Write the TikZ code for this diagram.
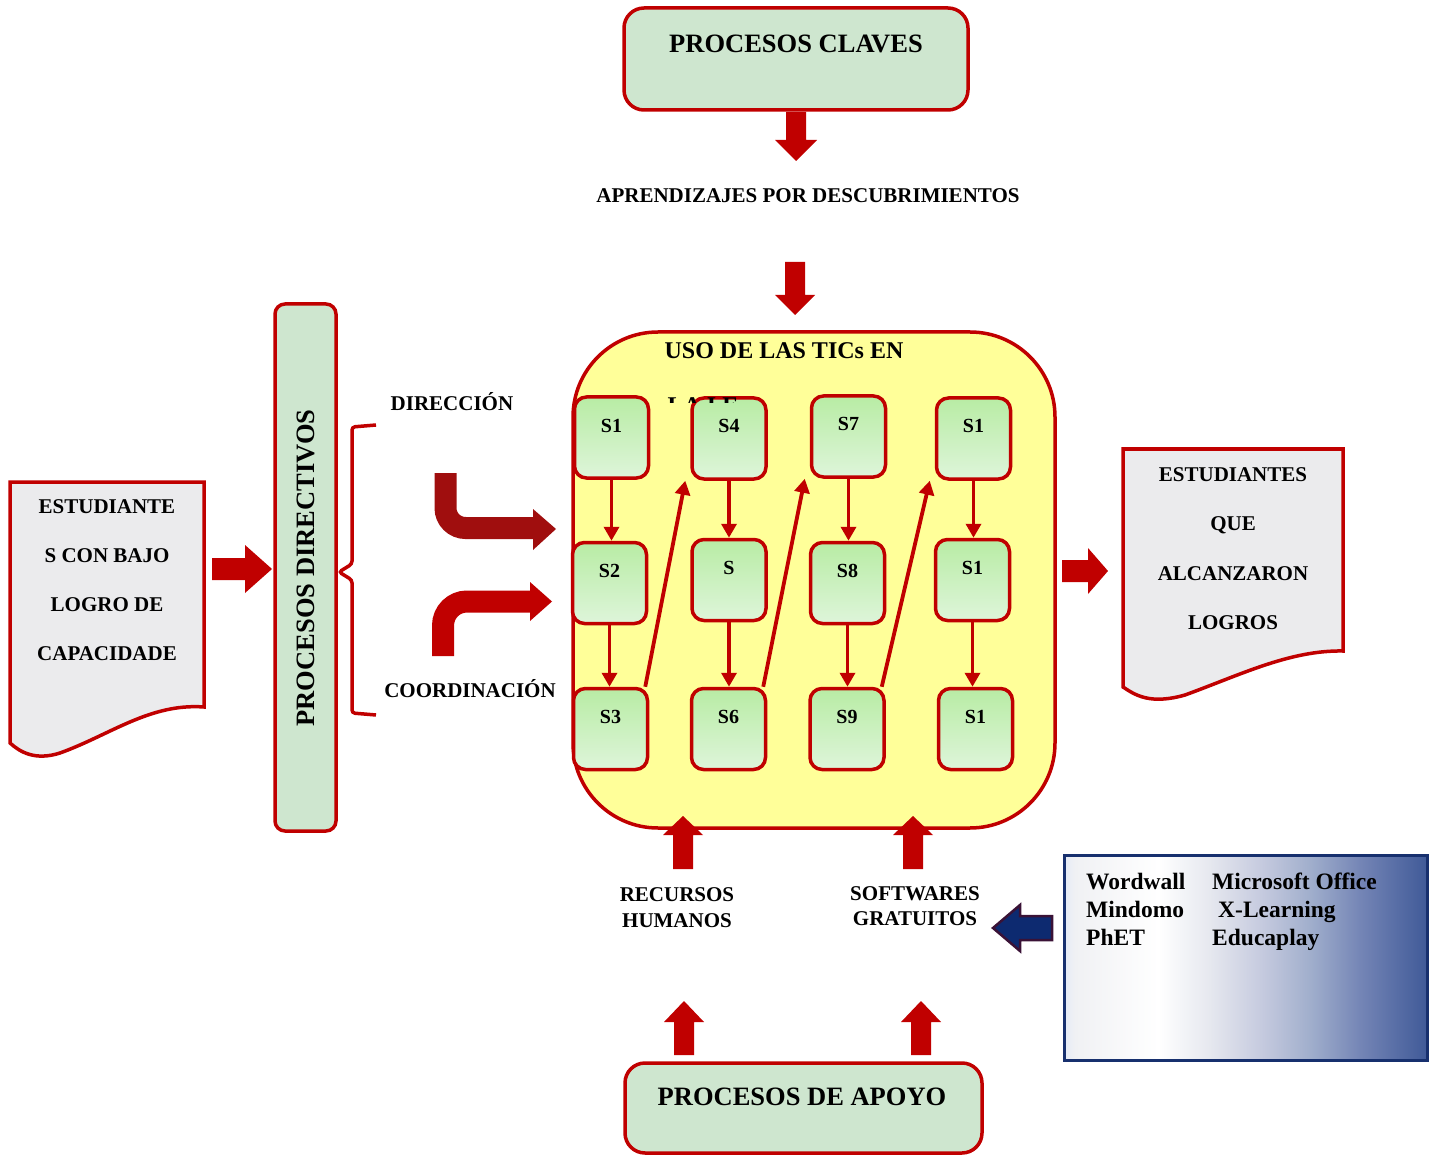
\documentclass[tikz,border=0pt]{standalone}
\usepackage{fontspec}
\setmainfont{Liberation Serif}
\usetikzlibrary{arrows.meta}
\definecolor{bred}{HTML}{C00000}
\definecolor{dred}{HTML}{8E0A0A}
\definecolor{darr}{HTML}{A00E0E}
\definecolor{boxgreen}{HTML}{CEE6CF}
\definecolor{yel}{HTML}{FFFF99}
\definecolor{docgray}{HTML}{EBEBED}
\definecolor{sgA}{HTML}{B8ECA4}
\definecolor{sgB}{HTML}{DEF5DA}
\definecolor{navyb}{HTML}{17306E}
\definecolor{navyf}{HTML}{0D2A70}
\definecolor{purpb}{HTML}{3A1236}
\definecolor{wwA}{HTML}{E4EAF6}
\definecolor{wwB}{HTML}{F0F1F4}
\definecolor{wwC}{HTML}{E6E8EF}
\definecolor{wwD}{HTML}{C4C9DE}
\definecolor{wwE}{HTML}{A0AECC}
\definecolor{wwF}{HTML}{7384B5}
\definecolor{wwG}{HTML}{405A98}
\pgfdeclarehorizontalshading{wwshade}{100bp}{color(0bp)=(wwA); color(25bp)=(wwA); color(26.5bp)=(wwB); color(38bp)=(white); color(45bp)=(wwC); color(52.5bp)=(wwD); color(59bp)=(wwE); color(66bp)=(wwF); color(75bp)=(wwG); color(100bp)=(wwG)}
\newcommand{\VArrow}[6]{\shade[varrow] (#1-#5,#2) -- (#1+#5,#2) -- (#1+#5,#3) -- (#1+#6,#3) -- (#1,#4) -- (#1-#6,#3) -- (#1-#5,#3) -- cycle;}
\newcommand{\HArrow}[6]{\shade[harrow] (#2,#1-#5) -- (#3,#1-#5) -- (#3,#1-#6) -- (#4,#1) -- (#3,#1+#6) -- (#3,#1+#5) -- (#2,#1+#5) -- cycle;}
\begin{document}
\begin{tikzpicture}[x=1pt,y=-1pt,
  txt/.style={font=\fontsize{21}{24}\selectfont\bfseries, inner sep=0pt, anchor=base},
  bigtxt/.style={font=\fontsize{26.5}{30}\selectfont\bfseries, inner sep=0pt, anchor=base},
  wtxt/.style={font=\fontsize{23.5}{26}\selectfont\bfseries, inner sep=0pt, anchor=base west},
  greenbox/.style={draw=bred, line width=3.5, fill=boxgreen, inner sep=0pt},
  sbox/.style={draw=bred, line width=3.5, rounded corners=12, top color=sgA, bottom color=sgB,
     minimum width=74, minimum height=81, inner sep=0pt,
     font=\fontsize{20}{22}\selectfont\bfseries, text height=14, text depth=25},
  doc/.style={draw=bred, line width=3.5, fill=docgray},
  sarrow/.style={draw=bred, line width=3.8, -{Triangle[length=14,width=15]}},
  varrow/.style={left color=bred, middle color=dred, right color=bred},
  harrow/.style={top color=bred, middle color=dred, bottom color=bred}]
\useasboundingbox (0,0) rectangle (1430,1155);

% top box
\node[greenbox, rounded corners=20, minimum width=344, minimum height=102] (pc) at (796,59) {};
\node[bigtxt] (pct) at (796,53) {PROCESOS CLAVES};
\VArrow{796}{112}{140}{161}{10}{21}
\node[txt] (apr) at (808,203) {APRENDIZAJES POR DESCUBRIMIENTOS};
\VArrow{795}{262}{295}{315}{10}{20}

% yellow box
\node[draw=bred, line width=3.5, fill=yel, rounded corners=85, minimum width=482, minimum height=496, inner sep=0pt] (uso) at (814,580) {};
\node[font=\fontsize{24}{26}\selectfont\bfseries, inner sep=0pt, anchor=base] (usot) at (784,359) {USO DE LAS TICs EN};

% S boxes
\node[sbox] (s1) at (611.5,437.5) {S1};
\node[sbox] (s4) at (729,438.5) {S4};
\node[sbox] (s7) at (848.5,436.5) {S7};
\node[sbox] (s10) at (973.5,438.5) {S1};
\node[sbox] (s2) at (609.5,583) {S2};
\node[sbox] (s5) at (729,580) {S};
\node[sbox] (s8) at (847.5,583) {S8};
\node[sbox] (s11) at (972.5,580) {S1};
\node[sbox] (s3) at (610.5,729) {S3};
\node[sbox] (s6) at (728.5,729) {S6};
\node[sbox] (s9) at (847,729) {S9};
\node[sbox] (s12) at (975.5,729) {S1};

\begin{scope}
\clip (650,392) rectangle (780,403);
\node[font=\fontsize{24}{26}\selectfont\bfseries, inner sep=0pt, anchor=base] (lai) at (706,414) {LA I.E.};
\end{scope}

\draw[sarrow] (s1.south) -- (s1.south |- s2.north);
\draw[sarrow] (s2.south) -- (s2.south |- s3.north);
\draw[sarrow] ([xshift=-4]s3.north east) -- ([xshift=-5]s4.south west);
\draw[sarrow] (s4.south) -- (s4.south |- s5.north);
\draw[sarrow] (s5.south) -- (s5.south |- s6.north);
\draw[sarrow] ([xshift=-4]s6.north east) -- ([xshift=-5]s7.south west);
\draw[sarrow] (s7.south) -- (s7.south |- s8.north);
\draw[sarrow] (s8.south) -- (s8.south |- s9.north);
\draw[sarrow] ([xshift=-4]s9.north east) -- ([xshift=-5]s10.south west);
\draw[sarrow] (s10.south) -- (s10.south |- s11.north);
\draw[sarrow] (s11.south) -- (s11.south |- s12.north);

% left document
\filldraw[doc] (10,482) -- (204,482) -- (204,707) .. controls (150,703) and (110,735) .. (60,753) .. controls (35,761) and (20,752) .. (10,743) -- cycle;
\node[txt] (l1) at (107,513) {ESTUDIANTE};
\node[txt] (l2) at (107,562) {S CON BAJO};
\node[txt] (l3) at (107,611) {LOGRO DE};
\node[txt] (l4) at (107,660) {CAPACIDADE};
\HArrow{569}{212}{245}{272}{11}{24}

% procesos directivos
\node[greenbox, rounded corners=10, minimum width=61, minimum height=527] (pd) at (305.5,567.5) {};
\node[font=\fontsize{26.5}{30}\selectfont\bfseries, inner sep=0pt, rotate=90] (pdt) at (306,568) {PROCESOS DIRECTIVOS};

% brace
\draw[bred, line width=3.5, rounded corners=3] (376,425) -- (352,427) -- (352,564) -- (339,572) -- (352,580) -- (352,713) -- (376,715);
\node[txt] (dir) at (452,411) {DIRECCIÓN};
\node[txt] (coo) at (470,697) {COORDINACIÓN};

% bent arrows
\draw[darr, line width=22, rounded corners=20] (445.5,473) -- (445.5,528) -- (535,528);
\fill[darr] (533,509) -- (556,529) -- (533,550) -- cycle;
\draw[bred, line width=22, rounded corners=24] (443,656) -- (443,601.5) -- (532,601.5);
\fill[bred] (530,582) -- (552,601.5) -- (530,621) -- cycle;

% right document
\filldraw[doc] (1123,449) -- (1343,449) -- (1343,651) .. controls (1290,650) and (1240,675) .. (1185,695) .. controls (1150,705) and (1135,695) .. (1123,687) -- cycle;
\node[txt] (r1) at (1233,481) {ESTUDIANTES};
\node[txt] (r2) at (1233,530) {QUE};
\node[txt] (r3) at (1233,580) {ALCANZARON};
\node[txt] (r4) at (1233,629) {LOGROS};
\HArrow{571}{1062}{1088}{1108}{11}{23}

% bottom
\VArrow{683}{869}{835}{816}{10}{20}
\VArrow{913}{869}{835}{816}{10}{20}
\node[txt] (rh1) at (677,901) {RECURSOS};
\node[txt] (rh2) at (677,927) {HUMANOS};
\node[txt] (sg1) at (915,900) {SOFTWARES};
\node[txt] (sg2) at (915,925) {GRATUITOS};
\VArrow{684}{1055}{1022}{1001}{10}{20}
\VArrow{921}{1055}{1022}{1001}{10}{20}
\node[greenbox, rounded corners=20, minimum width=357, minimum height=90] (pa) at (803.5,1108) {};
\node[bigtxt] (pat) at (802,1105) {PROCESOS DE APOYO};

% software box
\node[draw=navyb, line width=3, shade, shading=wwshade, minimum width=363, minimum height=205, inner sep=0pt] (ww) at (1245.5,957.5) {};
\node[wtxt] (w1) at (1086,889) {Wordwall};
\node[wtxt] (w2) at (1086,917) {Mindomo};
\node[wtxt] (w3) at (1086,945) {PhET};
\node[wtxt] (w4) at (1212,889) {Microsoft Office};
\node[wtxt] (w5) at (1218,917) {X-Learning};
\node[wtxt] (w6) at (1212,945) {Educaplay};
\filldraw[fill=navyf, draw=purpb, line width=2.5] (1052,916) -- (1020,916) -- (1020,905) -- (993,928) -- (1020,951) -- (1020,940) -- (1052,940) -- cycle;
\end{tikzpicture}
\end{document}
